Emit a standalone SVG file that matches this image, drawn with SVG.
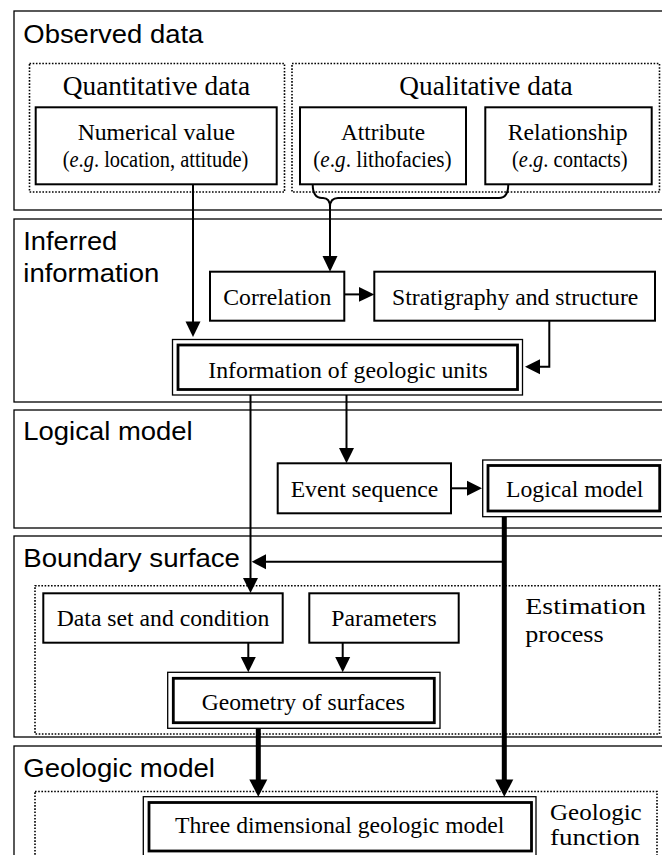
<svg xmlns="http://www.w3.org/2000/svg" width="662" height="855" viewBox="0 0 662 855">
<style>
.panel{fill:none;stroke:#000;stroke-width:1.3}
.dot{fill:none;stroke:#000;stroke-width:1.6;stroke-dasharray:1.6 1.6}
.box{fill:#fff;stroke:#000;stroke-width:2}
.outer{fill:#fff;stroke:#000;stroke-width:1.3}
.inner{fill:none;stroke:#000;stroke-width:2.8}
.ttl{font-size:25px;fill:#000}
.big{font-size:26.5px;fill:#000;text-anchor:middle}
.sm{font-size:22.5px;fill:#000;text-anchor:middle}
.side{font-size:23px;fill:#000}
.ln{fill:none;stroke:#000;stroke-width:2}
.thick{fill:none;stroke:#000;stroke-width:5}
.ah{fill:#000}
</style>
<g id="panels" font-family="Liberation Sans, Arial, sans-serif">
<rect class="panel" x="14" y="11" width="660" height="199"/>
<rect class="panel" x="14" y="219" width="660" height="183"/>
<rect class="panel" x="14" y="410" width="660" height="118"/>
<rect class="panel" x="14" y="536" width="660" height="201"/>
<rect class="panel" x="14" y="746" width="660" height="120"/>
<text class="ttl" x="23.3" y="42.7" textLength="180" lengthAdjust="spacingAndGlyphs">Observed data</text>
<text class="ttl" x="23.3" y="250" textLength="94" lengthAdjust="spacingAndGlyphs">Inferred</text>
<text class="ttl" x="23.3" y="281.5" textLength="136" lengthAdjust="spacingAndGlyphs">information</text>
<text class="ttl" x="23.3" y="440" textLength="169.4" lengthAdjust="spacingAndGlyphs">Logical model</text>
<text class="ttl" x="23.3" y="566.5" textLength="216.7" lengthAdjust="spacingAndGlyphs">Boundary surface</text>
<text class="ttl" x="23.3" y="776.5" textLength="191.7" lengthAdjust="spacingAndGlyphs">Geologic model</text>
</g>
<g id="groups" font-family="Liberation Serif, Times New Roman, serif">
<rect class="dot" x="29.5" y="63.5" width="255" height="128.5"/>
<text class="big" x="156.4" y="95" textLength="187.3" lengthAdjust="spacingAndGlyphs">Quantitative data</text>
<rect class="dot" x="292" y="63.5" width="367.5" height="128.5"/>
<text class="big" x="486" y="95" textLength="173.4" lengthAdjust="spacingAndGlyphs">Qualitative data</text>
<rect class="dot" x="35" y="585.7" width="624.5" height="148.3"/>
<text class="side" x="525.3" y="614" textLength="120.7" lengthAdjust="spacingAndGlyphs">Estimation</text>
<text class="side" x="525.3" y="642" textLength="78.4" lengthAdjust="spacingAndGlyphs">process</text>
<rect class="dot" x="35" y="791.5" width="622" height="80"/>
<text class="side" x="550" y="820" textLength="91.7" lengthAdjust="spacingAndGlyphs">Geologic</text>
<text class="side" x="550" y="845" textLength="90" lengthAdjust="spacingAndGlyphs">function</text>
</g>
<g id="connectors">
<path class="ln" d="M193,184.3 V323"/>
<path class="ah" d="M185.5,321.5 L200.5,321.5 L193,337 Z"/>
<path class="ln" d="M312.7,184.3 Q312.7,198 322,198 L323,198 Q330,198 330,207 M508.3,184.3 Q508.3,198 499,198 L338,198 Q330,198 330,207 V257"/>
<path class="ah" d="M322.5,256 L337.5,256 L330,271.7 Z"/>
<path class="ln" d="M344.3,294.4 H360"/>
<path class="ah" d="M359,287 L374.3,294.4 L359,301.8 Z"/>
<path class="ln" d="M549.3,320.7 V366.7 H538"/>
<path class="ah" d="M540,359.2 L525,366.7 L540,374.2 Z"/>
<path class="ln" d="M250.5,395 V579"/>
<path class="ah" d="M243,578 L258,578 L250.5,593 Z"/>
<path class="ln" d="M346.5,395 V449"/>
<path class="ah" d="M339,448 L354,448 L346.5,463.3 Z"/>
<path class="ln" d="M451,488.3 H468"/>
<path class="ah" d="M467,480.8 L482,488.3 L467,495.8 Z"/>
<path class="thick" d="M504.3,516.7 V781"/>
<path class="ah" d="M495.3,779.5 L513.3,779.5 L504.3,796.7 Z"/>
<path class="ln" d="M504.3,561.7 H264"/>
<path class="ah" d="M266,554.2 L251.7,561.7 L266,569.2 Z"/>
<path class="ln" d="M248.3,642.7 V658"/>
<path class="ah" d="M240.8,657 L255.8,657 L248.3,672.3 Z"/>
<path class="ln" d="M342.7,642.7 V658"/>
<path class="ah" d="M335.2,657 L350.2,657 L342.7,672.3 Z"/>
<path class="thick" d="M258.3,728.3 V781"/>
<path class="ah" d="M249.3,779.5 L267.3,779.5 L258.3,796.7 Z"/>
</g>
<g id="nodes" font-family="Liberation Serif, Times New Roman, serif">
<g id="n-numerical">
<rect class="box" x="35.7" y="107.3" width="241" height="77"/>
<text class="sm" x="156.3" y="140" textLength="157.3" lengthAdjust="spacingAndGlyphs">Numerical value</text>
<text class="sm" x="155.5" y="167" textLength="185.6" lengthAdjust="spacingAndGlyphs">(<tspan font-style="italic">e</tspan>.<tspan font-style="italic">g</tspan>. location, attitude)</text>
</g>
<g id="n-attribute">
<rect class="box" x="300" y="107.3" width="166" height="77"/>
<text class="sm" x="383" y="140" textLength="84" lengthAdjust="spacingAndGlyphs">Attribute</text>
<text class="sm" x="382.5" y="167" textLength="138.4" lengthAdjust="spacingAndGlyphs">(<tspan font-style="italic">e</tspan>.<tspan font-style="italic">g</tspan>. lithofacies)</text>
</g>
<g id="n-relationship">
<rect class="box" x="485.3" y="107.3" width="166.4" height="77"/>
<text class="sm" x="567.7" y="140" textLength="120" lengthAdjust="spacingAndGlyphs">Relationship</text>
<text class="sm" x="569.8" y="167" textLength="115.7" lengthAdjust="spacingAndGlyphs">(<tspan font-style="italic">e</tspan>.<tspan font-style="italic">g</tspan>. contacts)</text>
</g>
<g id="n-correlation">
<rect class="box" x="210" y="271.7" width="134.3" height="49"/>
<text class="sm" x="277.3" y="304.5" textLength="108" lengthAdjust="spacingAndGlyphs">Correlation</text>
</g>
<g id="n-stratigraphy">
<rect class="box" x="374.3" y="271.7" width="280.7" height="49"/>
<text class="sm" x="515.2" y="304.5" textLength="246.3" lengthAdjust="spacingAndGlyphs">Stratigraphy and structure</text>
</g>
<g id="n-information">
<rect class="outer" x="172.5" y="339.5" width="350" height="55.5"/>
<rect class="inner" x="178" y="345" width="339.5" height="44.5"/>
<text class="sm" x="348" y="377.5" textLength="279.4" lengthAdjust="spacingAndGlyphs">Information of geologic units</text>
</g>
<g id="n-event">
<rect class="box" x="277.7" y="463.3" width="173.3" height="50"/>
<text class="sm" x="364.5" y="497" textLength="147.6" lengthAdjust="spacingAndGlyphs">Event sequence</text>
</g>
<g id="n-logical">
<rect class="outer" x="482.7" y="460" width="185" height="56.7"/>
<rect class="inner" x="488" y="465.5" width="171.7" height="45.5"/>
<text class="sm" x="574.7" y="497" textLength="137.3" lengthAdjust="spacingAndGlyphs">Logical model</text>
</g>
<g id="n-dataset">
<rect class="box" x="43.3" y="593.3" width="239.4" height="49.4"/>
<text class="sm" x="163" y="625.5" textLength="212.6" lengthAdjust="spacingAndGlyphs">Data set and condition</text>
</g>
<g id="n-parameters">
<rect class="box" x="309.3" y="593.3" width="149.4" height="49.4"/>
<text class="sm" x="384" y="625.5" textLength="105.3" lengthAdjust="spacingAndGlyphs">Parameters</text>
</g>
<g id="n-geometry">
<rect class="outer" x="167.7" y="672.3" width="272.3" height="56"/>
<rect class="inner" x="173.3" y="678.3" width="261" height="44.4"/>
<text class="sm" x="303.3" y="709.5" textLength="203.3" lengthAdjust="spacingAndGlyphs">Geometry of surfaces</text>
</g>
<g id="n-3d">
<rect class="outer" x="143.3" y="796.7" width="392.7" height="62"/>
<rect class="inner" x="149" y="802.5" width="382.5" height="48.5"/>
<text class="sm" x="339.7" y="833" textLength="329.3" lengthAdjust="spacingAndGlyphs">Three dimensional geologic model</text>
</g>
</g>
</svg>
